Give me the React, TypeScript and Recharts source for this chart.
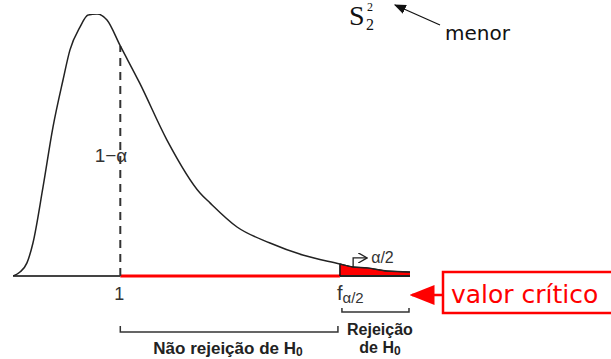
import React from "react";
import {
  ComposedChart,
  Line,
  Area,
  XAxis,
  YAxis,
  ReferenceLine,
  Customized,
} from "recharts";

// F-like density sampled along the x axis
const xs = [
  0, 0.065, 0.13, 0.186, 0.28, 0.373, 0.466, 0.531, 0.624, 0.7, 0.783, 0.876,
  1.0, 1.18, 1.435, 1.743, 1.836, 2.088, 2.395, 2.7, 3.047, 3.17, 3.3, 3.485, 3.7,
];
const density = [
  0, 0.015, 0.05, 0.126, 0.34, 0.569, 0.748, 0.863, 0.95, 0.996, 1.0, 0.977,
  0.878, 0.737, 0.519, 0.317, 0.279, 0.187, 0.126, 0.08, 0.046, 0.034, 0.031,
  0.019, 0.015,
];
const ONE = 1;
const CRIT = 3.047;
const X_MAX = 3.7;
const tickValues = [ONE, CRIT];

const W = 611;
const H = 359;
const M = { top: 14, right: 201, bottom: 53, left: 13 };
const AXIS_H = 30;
const PLOT_W = W - M.left - M.right;
const PLOT_BOTTOM = H - M.bottom - AXIS_H;
const PLOT_H = PLOT_BOTTOM - M.top;

const sx = (x: number) => M.left + (x / X_MAX) * PLOT_W;
const sy = (y: number) => PLOT_BOTTOM - y * PLOT_H;

const data = xs.map((x, i) => ({
  x,
  f: density[i],
  tail: x >= CRIT ? density[i] : null,
}));

const densityAt = (x: number) => density[xs.indexOf(x)];

const SANS = "'Liberation Sans', Arial, sans-serif";
const ROUND = "'DejaVu Sans', sans-serif";
const SERIF = "'Liberation Serif', 'Times New Roman', serif";

const XTick = (props: any) => {
  const { x, payload } = props;
  if (payload.value === ONE) {
    return (
      <text x={x - 1} y={300} textAnchor="middle" fontFamily={SANS} fontSize={18} fill="#333">
        1
      </text>
    );
  }
  return (
    <text x={x - 3} y={300} fontFamily={SANS} fontSize={20} fill="#333">
      f
      <tspan dy={3} fontSize={15}>α/2</tspan>
    </text>
  );
};

const Annotations = () => {
  const x1 = sx(ONE);
  const xc = sx(CRIT);
  const xe = sx(X_MAX);
  const arrowX = sx(3.17);
  return (
    <g>
      <defs>
        <marker id="headBlack" markerWidth="10" markerHeight="8" refX="9" refY="4" orient="auto">
          <path d="M0,0 L10,4 L0,8 z" fill="#111" />
        </marker>
        <marker id="headRed" markerWidth="10" markerHeight="8" refX="9" refY="4" orient="auto">
          <path d="M0,0 L10,4 L0,8 z" fill="#f00" />
        </marker>
        <marker id="headOpen" markerWidth="8" markerHeight="8" refX="7" refY="4" orient="auto">
          <path d="M0,0 L7,4 L0,8" fill="none" stroke="#222" strokeWidth={1} />
        </marker>
      </defs>

      {/* 1 - alpha inside the curve */}
      <text x={111} y={162} textAnchor="middle" fontFamily={SANS} fontSize={19} fill="#333">
        1−α
      </text>

      {/* alpha/2 pointer over the tail */}
      <path
        d={`M${arrowX},${sy(0.015)} L${arrowX},${sy(0.069)} L${arrowX + 14},${sy(0.069)}`}
        fill="none"
        stroke="#222"
        strokeWidth={1.3}
        markerEnd="url(#headOpen)"
      />
      <text x={arrowX + 18} y={sy(0.069) + 5} fontFamily={SANS} fontSize={16} fill="#333">
        α/2
      </text>

      {/* brackets under the axis */}
      <path
        d={`M${xc + 2},308 L${xc + 2},312 L${xe - 1},312 L${xe - 1},308`}
        fill="none"
        stroke="#333"
        strokeWidth={1.5}
      />
      <path
        d={`M${x1},326 L${x1},332 L${xc - 2},332 L${xc - 2},326`}
        fill="none"
        stroke="#333"
        strokeWidth={1.5}
      />
      <text x={228} y={354} textAnchor="middle" fontFamily={SANS} fontWeight="bold" fontSize={17} fill="#222">
        Não rejeição de H<tspan dy={2} fontSize={12}>0</tspan>
      </text>
      <text x={(xc + xe) / 2 + 5} y={335} textAnchor="middle" fontFamily={SANS} fontWeight="bold" fontSize={16} fill="#222">
        Rejeição
      </text>
      <text x={(xc + xe) / 2 + 5} y={353} textAnchor="middle" fontFamily={SANS} fontWeight="bold" fontSize={16} fill="#222">
        de H<tspan dy={2} fontSize={12}>0</tspan>
      </text>

      {/* critical value callout */}
      <rect x={443} y={272} width={170} height={41} fill="none" stroke="#f00" strokeWidth={2.5} />
      <line x1={443} y1={295} x2={412} y2={295} stroke="#f00" strokeWidth={2.5} markerEnd="url(#headRed)" />
      <text x={451} y={303} fontFamily={ROUND} fontSize={25} fill="#f00">
        valor crítico
      </text>

      {/* smaller variance label */}
      <text x={349} y={25} fontFamily={SERIF} fontSize={28} fill="#111">
        S
      </text>
      <text x={366} y={30} fontFamily={SERIF} fontSize={16} fill="#111">
        2
      </text>
      <text x={367} y={11} fontFamily={SERIF} fontSize={12} fill="#111">
        2
      </text>
      <line x1={440} y1={25} x2={395} y2={5} stroke="#111" strokeWidth={1.2} markerEnd="url(#headBlack)" />
      <text x={445} y={40} fontFamily={ROUND} fontSize={20} fill="#111">
        menor
      </text>
    </g>
  );
};

export default function App() {
  return (
    <div style={{ position: "absolute", left: 0, top: 0, width: W, height: H, background: "#fff" }}>
      <ComposedChart width={W} height={H} data={data} margin={M}>
        <XAxis
          dataKey="x"
          type="number"
          domain={[0, X_MAX]}
          ticks={tickValues}
          axisLine={false}
          tickLine={false}
          height={AXIS_H}
          tick={<XTick />}
          allowDataOverflow
        />
        <YAxis type="number" domain={[0, 1]} hide allowDataOverflow />

        {/* rejection tail */}
        <Area
          dataKey="tail"
          type="linear"
          stroke="#111"
          strokeWidth={1}
          fill="#ff0000"
          fillOpacity={1}
          isAnimationActive={false}
          dot={false}
          activeDot={false}
        />

        {/* baseline pieces */}
        <ReferenceLine segment={[{ x: 0, y: 0 }, { x: ONE, y: 0 }]} stroke="#444" strokeWidth={2} />
        <ReferenceLine segment={[{ x: ONE, y: 0 }, { x: CRIT, y: 0 }]} stroke="#f00" strokeWidth={3} />
        <ReferenceLine segment={[{ x: CRIT, y: 0 }, { x: X_MAX, y: 0 }]} stroke="#222" strokeWidth={2} />
        <ReferenceLine segment={[{ x: CRIT, y: 0 }, { x: CRIT, y: densityAt(CRIT) }]} stroke="#111" strokeWidth={1.5} />

        {/* dashed marker at x = 1 */}
        <ReferenceLine
          segment={[{ x: ONE, y: 0 }, { x: ONE, y: densityAt(ONE) }]}
          stroke="#333"
          strokeWidth={2}
          strokeDasharray="8 6"
        />

        <Line
          dataKey="f"
          type="monotone"
          stroke="#222"
          strokeWidth={1.5}
          dot={false}
          activeDot={false}
          isAnimationActive={false}
        />

        <Customized component={<Annotations />} />
      </ComposedChart>
    </div>
  );
}
